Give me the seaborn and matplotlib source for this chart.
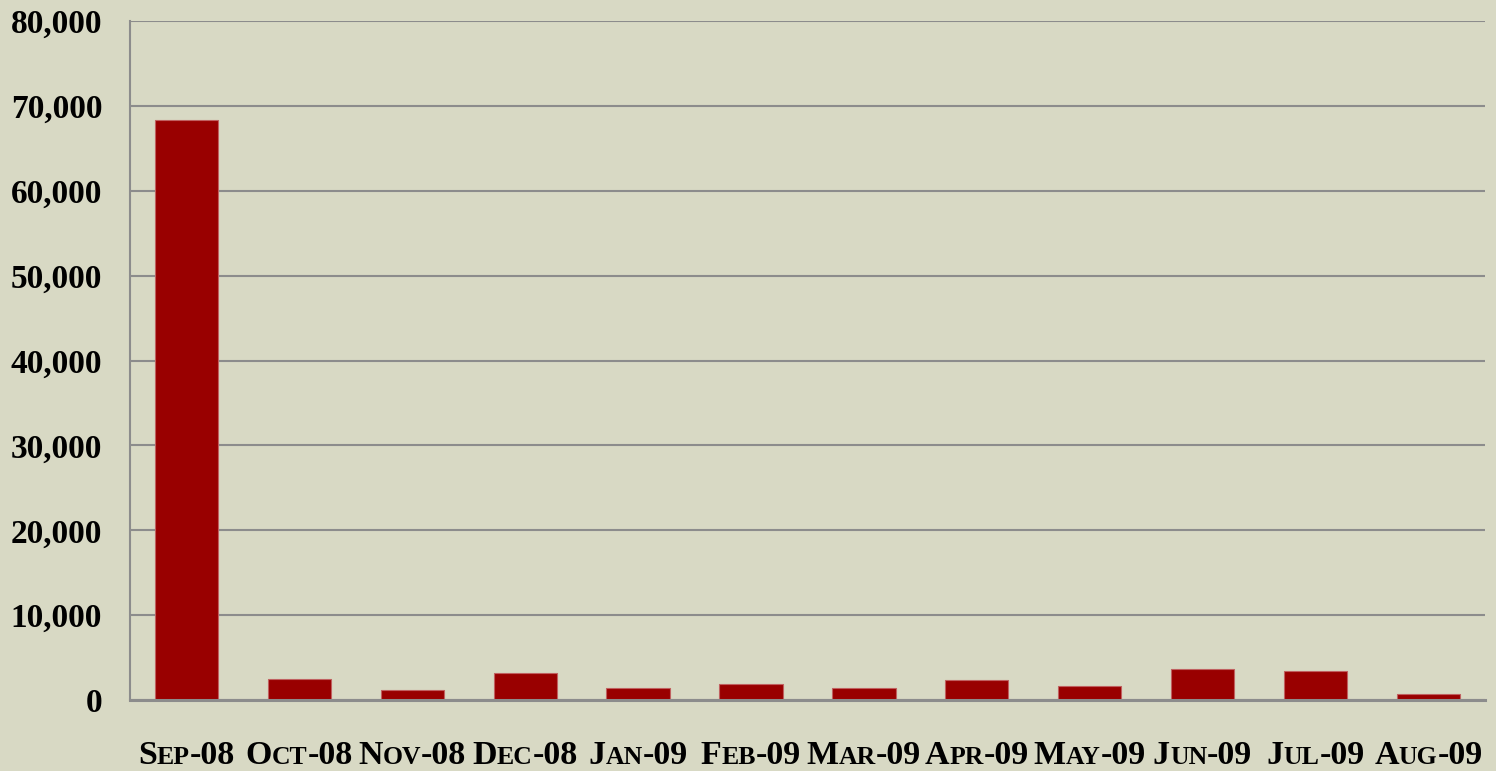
import matplotlib
matplotlib.use("Agg")
import matplotlib.pyplot as plt
import seaborn as sns
import pandas as pd
from matplotlib.offsetbox import TextArea, HPacker, AnnotationBbox

months = ["Sep-08", "Oct-08", "Nov-08", "Dec-08", "Jan-09", "Feb-09",
          "Mar-09", "Apr-09", "May-09", "Jun-09", "Jul-09", "Aug-09"]
values = [68350, 2440, 1180, 3180, 1380, 1900, 1400, 2400, 1650, 3700, 3420, 670]
yticks = [0, 10000, 20000, 30000, 40000, 50000, 60000, 70000, 80000]

BG = "#D8D9C4"
BAR = "#990000"
GRID = "#8C8C8C"

sns.set_theme(style="white")
plt.rcParams['font.family'] = ['Liberation Serif', 'DejaVu Serif']
plt.rcParams['text.color'] = 'black'

fig = plt.figure(figsize=(14.96, 7.71), dpi=100, facecolor=BG)
ax = fig.add_axes([0.0869, 0.092, 0.9057, 0.8808])
ax.set_facecolor(BG)

df = pd.DataFrame({"month": months, "value": values})
sns.barplot(data=df, x="month", y="value", color=BAR, width=0.56,
            saturation=1, edgecolor="#C06060", linewidth=0.8, ax=ax, zorder=3)

ax.set_ylim(0, 80000)
ax.set_xlim(-0.5, len(months) - 0.5)
ax.set_yticks(yticks)
ax.set_yticklabels([f"{v:,}" for v in yticks], fontsize=24, fontweight="bold",
                   color="black")
ax.yaxis.grid(True, color=GRID, linewidth=1.5, zorder=0)
ax.set_axisbelow(True)
ax.tick_params(axis="y", length=0, pad=20)
ax.tick_params(axis="x", length=0)
ax.set_xticks(range(len(months)))
ax.set_xticklabels([""] * len(months))
ax.set_xlabel("")
ax.set_ylabel("")

for s in ["top", "right"]:
    ax.spines[s].set_visible(False)
ax.spines["left"].set_color(GRID)
ax.spines["left"].set_linewidth(1.5)
ax.spines["bottom"].set_color(GRID)
ax.spines["bottom"].set_linewidth(2.2)
ax.spines["bottom"].set_zorder(4)

# small-caps style x labels
big, small = 24.5, 18.5
for i, m in enumerate(months):
    word, yr = m.split("-")
    tp_big = dict(size=big, weight="bold", family="Liberation Serif", color="black")
    tp_small = dict(size=small, weight="bold", family="Liberation Serif", color="black")
    parts = [
        TextArea(word[0].upper(), textprops=tp_big),
        TextArea(word[1:].upper(), textprops=tp_small),
        TextArea("-" + yr, textprops=tp_big),
    ]
    pack = HPacker(children=parts, align="baseline", pad=0, sep=0)
    ab = AnnotationBbox(pack, (i, 0), xybox=(0, -40), xycoords=("data", "axes fraction"),
                        boxcoords="offset points", frameon=False, box_alignment=(0.5, 0.5),
                        annotation_clip=False)
    ax.add_artist(ab)

fig.savefig("out.png", dpi=100, facecolor=BG)
